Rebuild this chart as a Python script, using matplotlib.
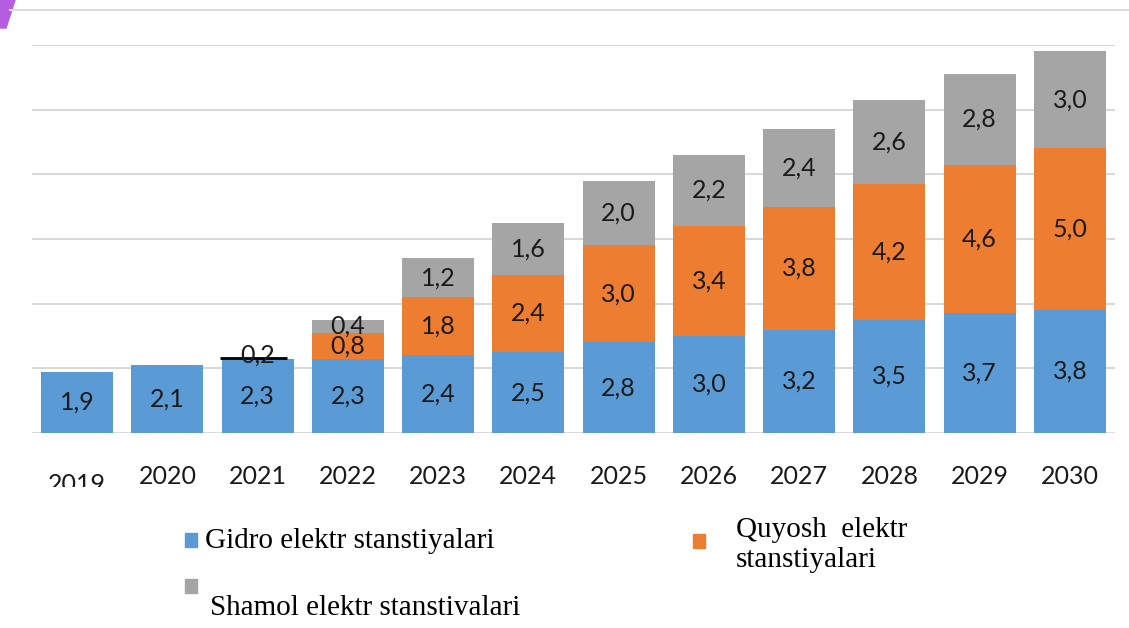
import numpy as np
import matplotlib
matplotlib.use('Agg')
import matplotlib.pyplot as plt
from matplotlib.patches import Rectangle, Polygon
from matplotlib.transforms import Bbox

# data
years = ['2019', '2020', '2021', '2022', '2023', '2024', '2025', '2026', '2027', '2028', '2029', '2030']
gidro = [1.9, 2.1, 2.3, 2.3, 2.4, 2.5, 2.8, 3.0, 3.2, 3.5, 3.7, 3.8]
quyosh = [0, 0, 0.2, 0.8, 1.8, 2.4, 3.0, 3.4, 3.8, 4.2, 4.6, 5.0]
shamol = [0, 0, 0, 0.4, 1.2, 1.6, 2.0, 2.2, 2.4, 2.6, 2.8, 3.0]

series_names = ['Gidro elektr stanstiyalari', 'Quyosh  elektr\nstanstiyalari', 'Shamol elektr stanstivalari']
colors = ['#5b9bd5', '#ed7d31', '#a5a5a5']

W, H = 1129, 628
fig = plt.figure(figsize=(W / 100, H / 100), dpi=100)
ax = fig.add_axes([32 / W, 1 - 433 / H, (1115 - 32) / W, (433 - 45) / H])

x = np.arange(len(years))
g = np.array(gidro)
q = np.array(quyosh)
s = np.array(shamol)

# tiny segment (2021) is drawn as a black line in the original
q_draw = np.where(q < 0.5, 0, q)

ax.bar(x, g, width=0.8, color=colors[0], zorder=2)
ax.bar(x, q_draw, width=0.8, bottom=g, color=colors[1], zorder=2)
ax.bar(x, s, width=0.8, bottom=g + q_draw, color=colors[2], zorder=2)
small = np.where((q > 0) & (q < 0.5))[0]
for i in small:
    ax.hlines(g[i] + q[i] * 0.15, x[i] - 0.42, x[i] + 0.33, color='black', lw=2, zorder=4)

lab_kw = dict(ha='center', va='center', fontsize=18, family='Lato', color='#1a1a1a', zorder=5)
def fmt(v):
    return ('%.1f' % v).replace('.', ',')

for i in range(len(years)):
    ax.text(x[i], g[i] / 2, fmt(g[i]), **lab_kw)
    if q[i] > 0:
        ax.text(x[i], g[i] + q[i] / 2, fmt(q[i]), **lab_kw)
    if s[i] > 0:
        ax.text(x[i], g[i] + q_draw[i] + s[i] / 2, fmt(s[i]), **lab_kw)

ax.set_xlim(-0.5, len(years) - 0.5)
ax.set_ylim(0, 12)
ax.set_yticks(np.arange(0, 13, 2))
ax.yaxis.grid(True, color='#d9d9d9', lw=1.5, zorder=0)
ax.set_axisbelow(True)
ax.tick_params(axis='y', left=False, labelleft=False)
for sp in ax.spines.values():
    sp.set_visible(False)

ax.set_xticks(x)
ax.set_xticklabels([''] + years[1:], fontsize=18, family='Lato', color='#1a1a1a')
ax.tick_params(axis='x', length=0, pad=23)

# first year label sits lower and is cut off
t = ax.text(x[0], -1.24, years[0], ha='center', va='top', fontsize=18, family='Lato', color='#1a1a1a')
t.set_clip_box(Bbox([[0, H - 487], [W, H]]))
t.set_clip_on(True)

# top border line and purple corner mark
fig.add_artist(plt.Line2D([10 / W, 1], [1 - 10 / H, 1 - 10 / H], color='#dcdcdc', lw=1.5))
fig.add_artist(Polygon([[0, 1 - 28 / H], [6 / W, 1 - 28 / H], [15 / W, 1], [0, 1]],
                       closed=True, color='#b45de0', transform=fig.transFigure))

# legend
def fx(px):
    return px / W
def fy(py):
    return 1 - py / H

leg_kw = dict(fontsize=21, family='Liberation Serif', color='black')
fig.add_artist(Rectangle((fx(185), fy(547)), 12 / W, 14 / H, color=colors[0], transform=fig.transFigure))
fig.text(fx(205), fy(541), series_names[0], va='center', **leg_kw)
fig.add_artist(Rectangle((fx(693), fy(548)), 12 / W, 14 / H, color=colors[1], transform=fig.transFigure))
fig.text(fx(736), fy(545), series_names[1], va='center', linespacing=1.2, **leg_kw)
fig.add_artist(Rectangle((fx(185), fy(593)), 12 / W, 14 / H, color=colors[2], transform=fig.transFigure))
fig.text(fx(210), fy(608), series_names[2], va='center', **leg_kw)

fig.savefig('out.png', dpi=100)
